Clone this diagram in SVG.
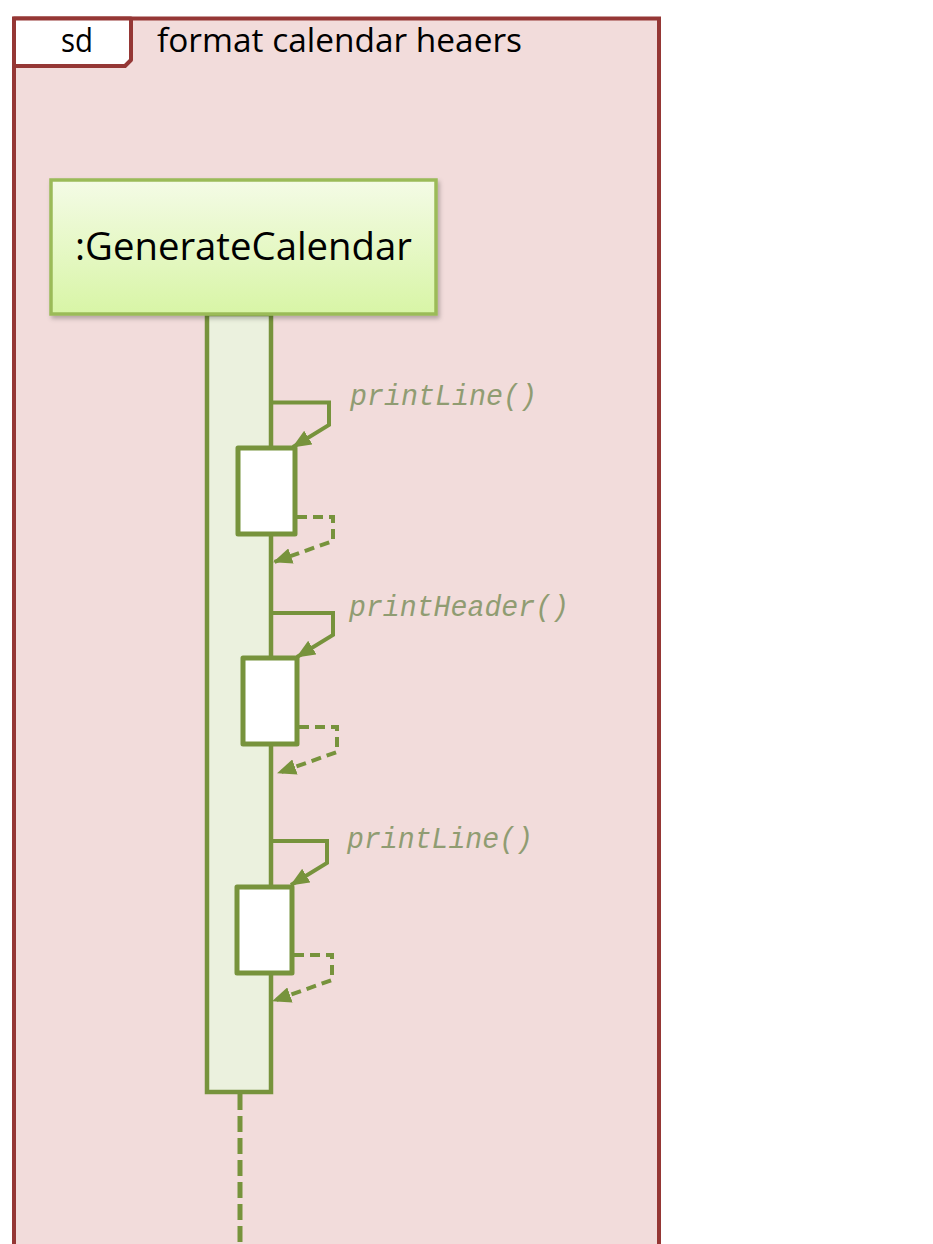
<svg xmlns="http://www.w3.org/2000/svg" width="933" height="1244" viewBox="0 0 933 1244">
  <defs>
    <linearGradient id="lifeGrad" x1="0" y1="0" x2="0" y2="1">
      <stop offset="0" stop-color="#f4fbe6"/>
      <stop offset="1" stop-color="#d8f5a6"/>
    </linearGradient>
    <filter id="shadow" x="-5%" y="-5%" width="115%" height="120%">
      <feDropShadow dx="2" dy="3" stdDeviation="2" flood-color="#000" flood-opacity="0.25"/>
    </filter>
    <marker id="arrow" markerUnits="userSpaceOnUse" markerWidth="19" markerHeight="16" refX="18" refY="8" orient="auto">
      <path d="M0,0 L19,8 L0,16 Z" fill="#77933c"/>
    </marker>
    <style>
      .frame { fill: #f2dcdb; stroke: #953735; stroke-width: 4; }
      .tab { fill: #ffffff; stroke: #953735; stroke-width: 4; stroke-linejoin: round; }
      .frameText { font-family: "Open Sans", "Liberation Sans", sans-serif; font-size: 33px; fill: #000000; }
      .lifeText { font-family: "Open Sans", "Liberation Sans", sans-serif; font-size: 39px; fill: #000000; }
      .lifeBox { fill: url(#lifeGrad); stroke: #9bbb59; stroke-width: 3.5; }
      .bar { fill: #ebf1de; stroke: #77933c; stroke-width: 4.5; }
      .act { fill: #ffffff; stroke: #77933c; stroke-width: 5; stroke-linejoin: round; }
      .call { fill: none; stroke: #77933c; stroke-width: 4; marker-end: url(#arrow); }
      .ret { fill: none; stroke: #77933c; stroke-width: 4; stroke-dasharray: 10 6; marker-end: url(#arrow); }
      .lifeline { fill: none; stroke: #77933c; stroke-width: 5; stroke-dasharray: 16 6; }
      .msg { font-family: "Liberation Mono", "DejaVu Sans Mono", monospace; font-style: italic; font-size: 29px; fill: #909c72; }
    </style>
  </defs>

  <g id="frame">
    <rect class="frame" x="14" y="18.5" width="645" height="1250"/>
    <path class="tab" d="M14,18.5 H131 V60 L125,66 H14 Z"/>
    <text class="frameText" x="77" y="52" text-anchor="middle" textLength="32" lengthAdjust="spacingAndGlyphs">sd</text>
    <text class="frameText" x="157" y="52" textLength="365" lengthAdjust="spacingAndGlyphs">format calendar heaers</text>
  </g>

  <g id="lifeline-GenerateCalendar">
    <line class="lifeline" x1="240" y1="1094" x2="240" y2="1250"/>
    <rect class="bar" x="207" y="314" width="64" height="778"/>
    <rect class="lifeBox" x="51" y="180" width="385" height="134" filter="url(#shadow)"/>
    <text class="lifeText" x="75" y="260" textLength="337" lengthAdjust="spacingAndGlyphs">:GenerateCalendar</text>
  </g>

  <g id="activation-1">
    <rect class="act" x="238" y="448" width="57" height="86"/>
  </g>
  <g id="activation-2">
    <rect class="act" x="243" y="658" width="54" height="86"/>
  </g>
  <g id="activation-3">
    <rect class="act" x="237" y="887" width="55" height="86"/>
  </g>

  <g id="connectors">
    <path class="call" d="M271,402.5 H329 V425 L293,447"/>
    <path class="ret" d="M297,517 H333 V541 L274,562"/>
    <path class="call" d="M271,613 H333 V635 L297,657"/>
    <path class="ret" d="M299,727 H337 V752 L278,773"/>
    <path class="call" d="M271,841 H327 V863 L291,885"/>
    <path class="ret" d="M294,955 H332 V980 L273,1001"/>
  </g>

  <g id="labels">
    <text class="msg" x="350" y="405" textLength="187" lengthAdjust="spacingAndGlyphs">printLine()</text>
    <text class="msg" x="349" y="616" textLength="220" lengthAdjust="spacingAndGlyphs">printHeader()</text>
    <text class="msg" x="347" y="848" textLength="186" lengthAdjust="spacingAndGlyphs">printLine()</text>
  </g>
</svg>
